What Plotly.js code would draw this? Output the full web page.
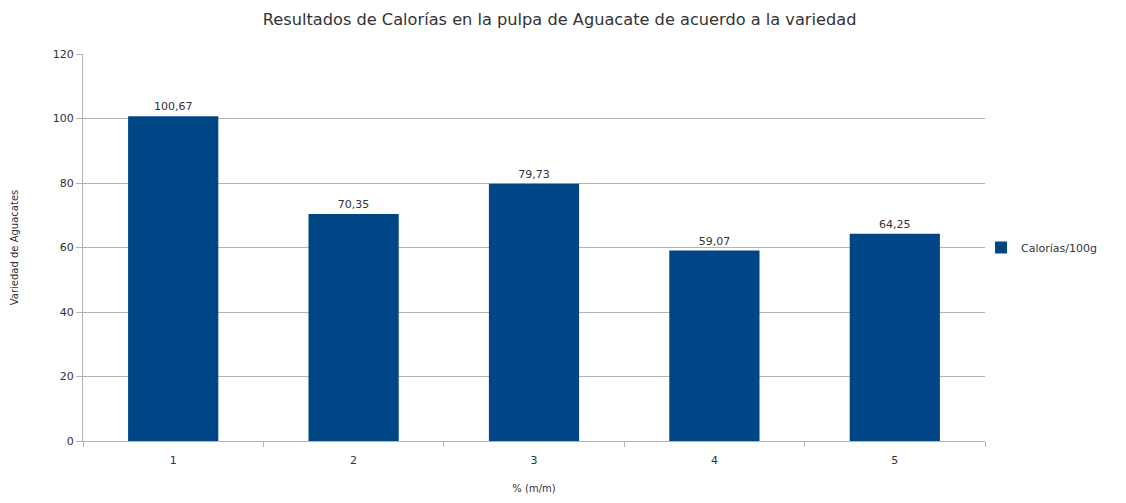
<!DOCTYPE html>
<html><head><meta charset="utf-8">
<script src="https://cdn.plot.ly/plotly-3.0.1.min.js"></script>
<style>html,body{margin:0;padding:0;background:#fff}#chart{width:1126px;height:503px}</style>
</head><body><div id="chart"></div>
<script>
const categories = ["1", "2", "3", "4", "5"];
const calorias = [100.67, 70.35, 79.73, 59.07, 64.25];
const seriesName = "Calorías/100g";

const FONT = "DejaVu Sans, Verdana, sans-serif";

const trace = {
  type: "bar",
  x: categories,
  y: calorias,
  name: seriesName,
  width: 0.5,
  marker: {color: "#004586"},
  texttemplate: "%{y:.2f}",
  textposition: "outside",
  cliponaxis: false,
  textfont: {family: FONT, size: 11, color: "#333"},
  showlegend: true
};

const layout = {
  width: 1126, height: 503,
  margin: {l: 83, r: 141, t: 54, b: 62},
  separators: ",.",
  paper_bgcolor: "#fff", plot_bgcolor: "#fff",
  font: {family: FONT, size: 11, color: "#333"},
  title: {text: "Resultados de Calorías en la pulpa de Aguacate de acuerdo a la variedad",
          x: 0.497, xref: "container", xanchor: "center", y: 0.962, yanchor: "middle",
          font: {size: 16.2, color: "#333"}},
  xaxis: {
    type: "category",
    title: {text: "% (m/m)", font: {size: 10}, standoff: 18},
    showline: true, linecolor: "#b3b3b3", linewidth: 1,
    ticks: "outside", tickson: "boundaries", ticklen: 5, tickcolor: "#b3b3b3",
    ticklabelstandoff: 9,
    showgrid: false, tickfont: {size: 11}
  },
  yaxis: {
    range: [0, 120], dtick: 20,
    title: {text: "Variedad de Aguacates", font: {size: 10}, standoff: 32},
    showline: true, linecolor: "#b3b3b3", linewidth: 1,
    ticks: "outside", ticklen: 6, tickcolor: "#b3b3b3",
    gridcolor: "#b3b3b3", gridwidth: 1, zeroline: false,
    tickfont: {size: 11}
  },
  bargap: 0.5,
  legend: {x: 0.9956, xanchor: "left", y: 0.5, yanchor: "middle",
           font: {size: 11}, itemwidth: 30, bgcolor: "rgba(0,0,0,0)"}
};

Plotly.newPlot("chart", [trace], layout, {displayModeBar: false, staticPlot: true});
</script>
</body></html>
